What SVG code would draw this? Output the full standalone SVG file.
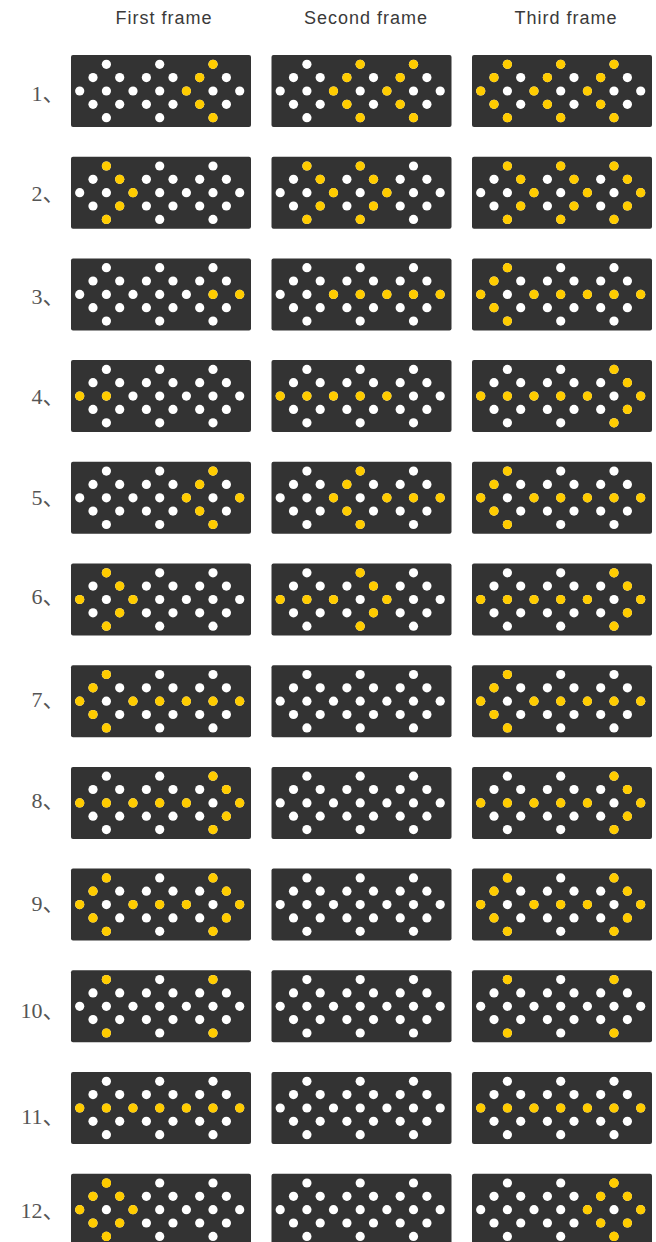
<svg xmlns="http://www.w3.org/2000/svg" xmlns:xlink="http://www.w3.org/1999/xlink" width="656" height="1242" viewBox="0 0 656 1242">
<style>
.hd{font-family:"Liberation Sans",Arial,sans-serif;font-size:18px;fill:#3a3a3a;text-anchor:middle;letter-spacing:1px}
.lb{font-family:"Liberation Serif","Noto Sans CJK SC",serif;font-size:22px;fill:#555;text-anchor:end}
.w{fill:#fff}
.y{fill:#ffcc00}
.pn{fill:#333}
</style>
<defs>
<g id="base">
<rect class="pn" width="180" height="72" rx="2"/>
<g class="w">
<circle cx="8.7" cy="36" r="4.6"/>
<circle cx="22" cy="22.6" r="4.6"/><circle cx="22" cy="49.3" r="4.6"/>
<circle cx="35.4" cy="9.3" r="4.6"/><circle cx="35.4" cy="36" r="4.6"/><circle cx="35.4" cy="62.7" r="4.6"/>
<circle cx="48.7" cy="22.6" r="4.6"/><circle cx="48.7" cy="49.3" r="4.6"/>
<circle cx="62" cy="36" r="4.6"/>
<circle cx="75.4" cy="22.6" r="4.6"/><circle cx="75.4" cy="49.3" r="4.6"/>
<circle cx="88.7" cy="9.3" r="4.6"/><circle cx="88.7" cy="36" r="4.6"/><circle cx="88.7" cy="62.7" r="4.6"/>
<circle cx="102" cy="22.6" r="4.6"/><circle cx="102" cy="49.3" r="4.6"/>
<circle cx="115.4" cy="36" r="4.6"/>
<circle cx="128.7" cy="22.6" r="4.6"/><circle cx="128.7" cy="49.3" r="4.6"/>
<circle cx="142" cy="9.3" r="4.6"/><circle cx="142" cy="36" r="4.6"/><circle cx="142" cy="62.7" r="4.6"/>
<circle cx="155.4" cy="22.6" r="4.6"/><circle cx="155.4" cy="49.3" r="4.6"/>
<circle cx="168.7" cy="36" r="4.6"/>
</g>
</g>
<g id="L1" class="y"><circle cx="8.7" cy="36" r="4.6"/><circle cx="22" cy="22.6" r="4.6"/><circle cx="22" cy="49.3" r="4.6"/><circle cx="35.4" cy="9.3" r="4.6"/><circle cx="35.4" cy="62.7" r="4.6"/></g>
<g id="L2" class="y"><circle cx="62" cy="36" r="4.6"/><circle cx="75.4" cy="22.6" r="4.6"/><circle cx="75.4" cy="49.3" r="4.6"/><circle cx="88.7" cy="9.3" r="4.6"/><circle cx="88.7" cy="62.7" r="4.6"/></g>
<g id="L3" class="y"><circle cx="115.4" cy="36" r="4.6"/><circle cx="128.7" cy="22.6" r="4.6"/><circle cx="128.7" cy="49.3" r="4.6"/><circle cx="142" cy="9.3" r="4.6"/><circle cx="142" cy="62.7" r="4.6"/></g>
<g id="R1" class="y"><circle cx="35.4" cy="9.3" r="4.6"/><circle cx="35.4" cy="62.7" r="4.6"/><circle cx="48.7" cy="22.6" r="4.6"/><circle cx="48.7" cy="49.3" r="4.6"/><circle cx="62" cy="36" r="4.6"/></g>
<g id="R2" class="y"><circle cx="88.7" cy="9.3" r="4.6"/><circle cx="88.7" cy="62.7" r="4.6"/><circle cx="102" cy="22.6" r="4.6"/><circle cx="102" cy="49.3" r="4.6"/><circle cx="115.4" cy="36" r="4.6"/></g>
<g id="R3" class="y"><circle cx="142" cy="9.3" r="4.6"/><circle cx="142" cy="62.7" r="4.6"/><circle cx="155.4" cy="22.6" r="4.6"/><circle cx="155.4" cy="49.3" r="4.6"/><circle cx="168.7" cy="36" r="4.6"/></g>
<circle id="m0" class="y" cx="8.7" cy="36" r="4.6"/>
<circle id="m2" class="y" cx="35.4" cy="36" r="4.6"/>
<circle id="m4" class="y" cx="62" cy="36" r="4.6"/>
<circle id="m6" class="y" cx="88.7" cy="36" r="4.6"/>
<circle id="m8" class="y" cx="115.4" cy="36" r="4.6"/>
<circle id="m10" class="y" cx="142" cy="36" r="4.6"/>
<circle id="m12" class="y" cx="168.7" cy="36" r="4.6"/>
<g id="corners" class="y"><circle cx="35.4" cy="9.3" r="4.6"/><circle cx="35.4" cy="62.7" r="4.6"/><circle cx="142" cy="9.3" r="4.6"/><circle cx="142" cy="62.7" r="4.6"/></g>
</defs>

<g id="headers">
<text class="hd" x="164" y="24">First frame</text>
<text class="hd" x="366" y="24">Second frame</text>
<text class="hd" x="566" y="24">Third frame</text>
</g>

<g id="labels">
<text class="lb" x="64.5" y="100.7">1、</text>
<text class="lb" x="64.5" y="200.5">2、</text>
<text class="lb" x="64.5" y="303.5">3、</text>
<text class="lb" x="64.5" y="403.5">4、</text>
<text class="lb" x="64.5" y="504.5">5、</text>
<text class="lb" x="64.5" y="603.5">6、</text>
<text class="lb" x="64.5" y="706.5">7、</text>
<text class="lb" x="64.5" y="807.5">8、</text>
<text class="lb" x="64.5" y="910.5">9、</text>
<text class="lb" x="64.5" y="1018">10、</text>
<text class="lb" x="64.5" y="1124">11、</text>
<text class="lb" x="64.5" y="1217.5">12、</text>
</g>

<!-- row 1 -->
<g id="p1-1" transform="translate(71,55)"><use href="#base"/><use href="#L3"/></g>
<g id="p1-2" transform="translate(271.5,55)"><use href="#base"/><use href="#L2"/><use href="#L3"/></g>
<g id="p1-3" transform="translate(472,55)"><use href="#base"/><use href="#L1"/><use href="#L2"/><use href="#L3"/></g>
<!-- row 2 -->
<g id="p2-1" transform="translate(71,156.7)"><use href="#base"/><use href="#R1"/></g>
<g id="p2-2" transform="translate(271.5,156.7)"><use href="#base"/><use href="#R1"/><use href="#R2"/></g>
<g id="p2-3" transform="translate(472,156.7)"><use href="#base"/><use href="#R1"/><use href="#R2"/><use href="#R3"/></g>
<!-- row 3 -->
<g id="p3-1" transform="translate(71,258.4)"><use href="#base"/><use href="#m10"/><use href="#m12"/></g>
<g id="p3-2" transform="translate(271.5,258.4)"><use href="#base"/><use href="#m4"/><use href="#m6"/><use href="#m8"/><use href="#m10"/><use href="#m12"/></g>
<g id="p3-3" transform="translate(472,258.4)"><use href="#base"/><use href="#L1"/><use href="#m4"/><use href="#m6"/><use href="#m8"/><use href="#m10"/><use href="#m12"/></g>
<!-- row 4 -->
<g id="p4-1" transform="translate(71,360.1)"><use href="#base"/><use href="#m0"/><use href="#m2"/></g>
<g id="p4-2" transform="translate(271.5,360.1)"><use href="#base"/><use href="#m0"/><use href="#m2"/><use href="#m4"/><use href="#m6"/><use href="#m8"/></g>
<g id="p4-3" transform="translate(472,360.1)"><use href="#base"/><use href="#m0"/><use href="#m2"/><use href="#m4"/><use href="#m6"/><use href="#m8"/><use href="#R3"/></g>
<!-- row 5 -->
<g id="p5-1" transform="translate(71,461.8)"><use href="#base"/><use href="#L3"/><use href="#m12"/></g>
<g id="p5-2" transform="translate(271.5,461.8)"><use href="#base"/><use href="#L2"/><use href="#m8"/><use href="#m10"/><use href="#m12"/></g>
<g id="p5-3" transform="translate(472,461.8)"><use href="#base"/><use href="#L1"/><use href="#m4"/><use href="#m6"/><use href="#m8"/><use href="#m10"/><use href="#m12"/></g>
<!-- row 6 -->
<g id="p6-1" transform="translate(71,563.5)"><use href="#base"/><use href="#R1"/><use href="#m0"/></g>
<g id="p6-2" transform="translate(271.5,563.5)"><use href="#base"/><use href="#R2"/><use href="#m0"/><use href="#m2"/><use href="#m4"/></g>
<g id="p6-3" transform="translate(472,563.5)"><use href="#base"/><use href="#R3"/><use href="#m0"/><use href="#m2"/><use href="#m4"/><use href="#m6"/><use href="#m8"/></g>
<!-- row 7 -->
<g id="p7-1" transform="translate(71,665.2)"><use href="#base"/><use href="#L1"/><use href="#m4"/><use href="#m6"/><use href="#m8"/><use href="#m10"/><use href="#m12"/></g>
<g id="p7-2" transform="translate(271.5,665.2)"><use href="#base"/></g>
<g id="p7-3" transform="translate(472,665.2)"><use href="#base"/><use href="#L1"/><use href="#m4"/><use href="#m6"/><use href="#m8"/><use href="#m10"/><use href="#m12"/></g>
<!-- row 8 -->
<g id="p8-1" transform="translate(71,766.9)"><use href="#base"/><use href="#R3"/><use href="#m0"/><use href="#m2"/><use href="#m4"/><use href="#m6"/><use href="#m8"/></g>
<g id="p8-2" transform="translate(271.5,766.9)"><use href="#base"/></g>
<g id="p8-3" transform="translate(472,766.9)"><use href="#base"/><use href="#R3"/><use href="#m0"/><use href="#m2"/><use href="#m4"/><use href="#m6"/><use href="#m8"/></g>
<!-- row 9 -->
<g id="p9-1" transform="translate(71,868.6)"><use href="#base"/><use href="#L1"/><use href="#R3"/><use href="#m4"/><use href="#m6"/><use href="#m8"/></g>
<g id="p9-2" transform="translate(271.5,868.6)"><use href="#base"/></g>
<g id="p9-3" transform="translate(472,868.6)"><use href="#base"/><use href="#L1"/><use href="#R3"/><use href="#m4"/><use href="#m6"/><use href="#m8"/></g>
<!-- row 10 -->
<g id="p10-1" transform="translate(71,970.3)"><use href="#base"/><use href="#corners"/></g>
<g id="p10-2" transform="translate(271.5,970.3)"><use href="#base"/></g>
<g id="p10-3" transform="translate(472,970.3)"><use href="#base"/><use href="#corners"/></g>
<!-- row 11 -->
<g id="p11-1" transform="translate(71,1072)"><use href="#base"/><use href="#m0"/><use href="#m2"/><use href="#m4"/><use href="#m6"/><use href="#m8"/><use href="#m10"/><use href="#m12"/></g>
<g id="p11-2" transform="translate(271.5,1072)"><use href="#base"/></g>
<g id="p11-3" transform="translate(472,1072)"><use href="#base"/><use href="#m0"/><use href="#m2"/><use href="#m4"/><use href="#m6"/><use href="#m8"/><use href="#m10"/><use href="#m12"/></g>
<!-- row 12 -->
<g id="p12-1" transform="translate(71,1173.7)"><use href="#base"/><use href="#L1"/><use href="#R1"/></g>
<g id="p12-2" transform="translate(271.5,1173.7)"><use href="#base"/></g>
<g id="p12-3" transform="translate(472,1173.7)"><use href="#base"/><use href="#L3"/><use href="#R3"/></g>

<g id="connectors"/>
</svg>
